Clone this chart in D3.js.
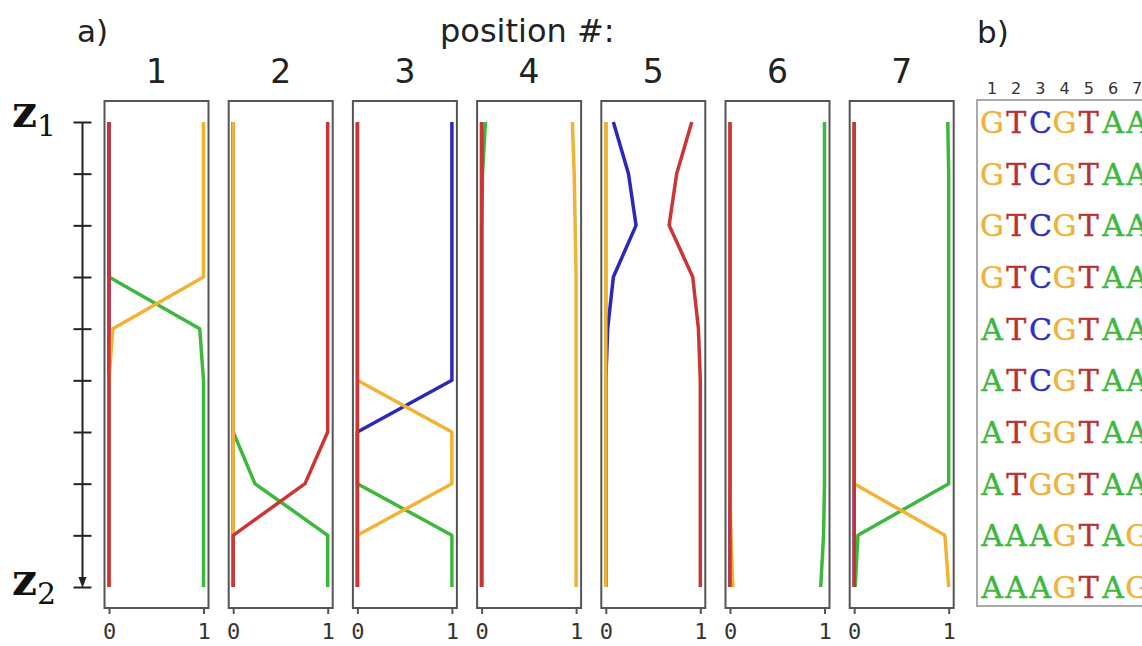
<!DOCTYPE html>
<html>
<head>
<meta charset="utf-8">
<script src="https://cdn.jsdelivr.net/npm/d3@7"></script>
<style>
  html, body { margin: 0; padding: 0; background: #ffffff; }
  svg { display: block; }
</style>
</head>
<body>
<svg id="chart" width="1142" height="646"></svg>
<script>
// ---------------- data ----------------
const positions = [1, 2, 3, 4, 5, 6, 7];
const rowIndex = [0, 1, 2, 3, 4, 5, 6, 7, 8, 9];
const nucleotides = ["A", "C", "G", "T"];
const xTickValues = [0, 1];

// frequency of each nucleotide per position (outer) per row z1..z2 (inner)
const freqA = [
  [0, 0, 0, 0, 0.96, 1, 1, 1, 1, 1],
  [0, 0, 0, 0, 0, 0, 0, 0.23, 1, 1],
  [0, 0, 0, 0, 0, 0, 0, 0, 1, 1],
  [0.04, 0.01, 0, 0, 0, 0, 0, 0, 0, 0],
  [0, 0, 0, 0, 0, 0, 0, 0, 0, 0],
  [1, 1, 1, 1, 1, 1, 1, 1, 0.99, 0.96],
  [0.99, 1, 1, 1, 1, 1, 1, 1, 0.04, 0.01]
];
const freqC = [
  [0, 0, 0, 0, 0, 0, 0, 0, 0, 0],
  [0, 0, 0, 0, 0, 0, 0, 0, 0, 0],
  [1, 1, 1, 1, 1, 1, 0, 0, 0, 0],
  [0, 0, 0, 0, 0, 0, 0, 0, 0, 0],
  [0.08, 0.24, 0.32, 0.08, 0.02, 0, 0, 0, 0, 0],
  [0, 0, 0, 0, 0, 0, 0, 0, 0, 0],
  [0, 0, 0, 0, 0, 0, 0, 0, 0, 0]
];
const freqG = [
  [1, 1, 1, 1, 0.04, 0, 0, 0, 0, 0],
  [0, 0, 0, 0, 0, 0, 0, 0, 0, 0],
  [0, 0, 0, 0, 0, 0, 1, 1, 0, 0],
  [0.96, 0.98, 0.99, 1, 1, 1, 1, 1, 1, 1],
  [0, 0, 0, 0, 0, 0, 0, 0, 0, 0],
  [0, 0, 0, 0, 0, 0, 0, 0, 0.01, 0.03],
  [0, 0, 0, 0, 0, 0, 0, 0, 0.96, 1]
];
const freqT = [
  [0, 0, 0, 0, 0, 0, 0, 0, 0, 0],
  [1, 1, 1, 1, 1, 1, 1, 0.76, 0, 0],
  [0, 0, 0, 0, 0, 0, 0, 0, 0, 0],
  [0, 0, 0, 0, 0, 0, 0, 0, 0, 0],
  [0.91, 0.75, 0.67, 0.92, 0.98, 1, 1, 1, 1, 1],
  [0, 0, 0, 0, 0, 0, 0, 0, 0, 0],
  [0, 0, 0, 0, 0, 0, 0, 0, 0, 0]
];

// sequences shown in panel b)
const sequences = [
  "GTCGTAA", "GTCGTAA", "GTCGTAA", "GTCGTAA", "ATCGTAA",
  "ATCGTAA", "ATGGTAA", "ATGGTAA", "AAAGTAG", "AAAGTAG"
];

// ---------------- styles ----------------
const lineColor = { A: "#3cb83c", C: "#2a2ab8", G: "#f2b234", T: "#cc3535" };
const letterColor = { A: "#3db83d", C: "#2f2fc0", G: "#f0b23a", T: "#b83232" };
const freqBy = { A: freqA, C: freqC, G: freqG, T: freqT };

const svg = d3.select("#chart");
svg.append("rect").attr("width", 1142).attr("height", 646).attr("fill", "#ffffff");

const panelLeft0 = 104.5, panelStep = 124.2, panelW = 104;
const boxTop = 101, boxBottom = 608;

const y = d3.scaleLinear().domain([0, 9]).range([122, 587]);
const panelX = d3.scaleLinear().domain([0, 1]).range([panelLeft0, panelLeft0 + panelStep]);

// ---------------- titles ----------------
svg.append("text").attr("x", 77).attr("y", 42)
  .attr("font-family", "DejaVu Sans").attr("font-size", 31).attr("fill", "#222")
  .text("a)");
svg.append("text").attr("x", 440).attr("y", 42)
  .attr("font-family", "DejaVu Sans").attr("font-size", 32).attr("fill", "#222")
  .text("position #:");
svg.append("text").attr("x", 977).attr("y", 43)
  .attr("font-family", "DejaVu Sans").attr("font-size", 31).attr("fill", "#222")
  .text("b)");

// ---------------- left z axis ----------------
const zAxis = d3.axisLeft(y).tickValues(rowIndex).tickFormat("").tickSize(9);
const zg = svg.append("g").attr("transform", "translate(82.5,0)").call(zAxis);
zg.select(".domain").remove();
zg.selectAll(".tick line").attr("x1", -9).attr("x2", 9)
  .attr("stroke", "#222").attr("stroke-width", 2);
zg.append("line").attr("x1", 0).attr("x2", 0).attr("y1", y(0)).attr("y2", y(9) - 6)
  .attr("stroke", "#222").attr("stroke-width", 2);
zg.append("path")
  .attr("d", `M-4,${y(9) - 10} L4,${y(9) - 10} L0,${y(9) + 1} Z`)
  .attr("fill", "#222");

function zLabel(yBase, sub) {
  const t = svg.append("text").attr("x", 12).attr("y", yBase)
    .attr("font-family", "DejaVu Serif").attr("fill", "#111");
  t.append("tspan").attr("font-size", 44).attr("font-weight", "bold").text("z");
  t.append("tspan").attr("font-size", 30).attr("dy", 9).text(sub);
}
zLabel(127, "1");
zLabel(595, "2");

// ---------------- panels ----------------
positions.forEach((p, i) => {
  const L = panelX(i);
  const x = d3.scaleLinear().domain([0, 1]).range([L + 4.5, L + 99]);
  const g = svg.append("g");

  g.append("rect").attr("x", L).attr("y", boxTop).attr("width", panelW)
    .attr("height", boxBottom - boxTop)
    .attr("fill", "#ffffff").attr("stroke", "#555").attr("stroke-width", 2);

  g.append("text").attr("x", L + panelW / 2).attr("y", 83)
    .attr("text-anchor", "middle").attr("font-family", "DejaVu Sans")
    .attr("font-size", 33).attr("fill", "#222").text(p);

  const line = d3.line().x(d => x(d.v)).y(d => y(d.r));
  nucleotides.forEach(n => {
    const data = freqBy[n][i].map((v, r) => ({ v, r }));
    g.append("path").datum(data).attr("d", line)
      .attr("fill", "none").attr("stroke", lineColor[n])
      .attr("stroke-width", 3.5).attr("stroke-linejoin", "round");
  });

  const ax = d3.axisBottom(x).tickValues(xTickValues).tickFormat(d3.format("d"))
    .tickSize(6).tickPadding(9);
  const ag = g.append("g").attr("transform", `translate(0,${boxBottom})`).call(ax);
  ag.select(".domain").remove();
  ag.selectAll(".tick line").attr("stroke", "#555").attr("stroke-width", 2);
  ag.selectAll(".tick text").attr("font-family", "DejaVu Sans Mono")
    .attr("font-size", 22).attr("fill", "#333");
});

// ---------------- panel b ----------------
const colX = d3.scalePoint().domain(positions).range([992, 992 + 6 * 24.2]);
svg.append("rect").attr("x", 977).attr("y", 100).attr("width", 200).attr("height", 506)
  .attr("fill", "#ffffff").attr("stroke", "#aaa").attr("stroke-width", 2);
svg.append("g").selectAll("text").data(positions).join("text")
  .attr("x", d => colX(d)).attr("y", 94).attr("text-anchor", "middle")
  .attr("font-family", "DejaVu Sans").attr("font-size", 16).attr("fill", "#333")
  .text(d => d);
sequences.forEach((s, r) => {
  svg.append("g").selectAll("text").data(s.split("")).join("text")
    .attr("x", (d, k) => colX(positions[k])).attr("y", y(r) + 11)
    .attr("text-anchor", "middle").attr("font-family", "DejaVu Serif")
    .attr("font-size", 30).attr("fill", d => letterColor[d])
    .attr("stroke", d => letterColor[d]).attr("stroke-width", 0.4)
    .text(d => d);
});
</script>
</body>
</html>
